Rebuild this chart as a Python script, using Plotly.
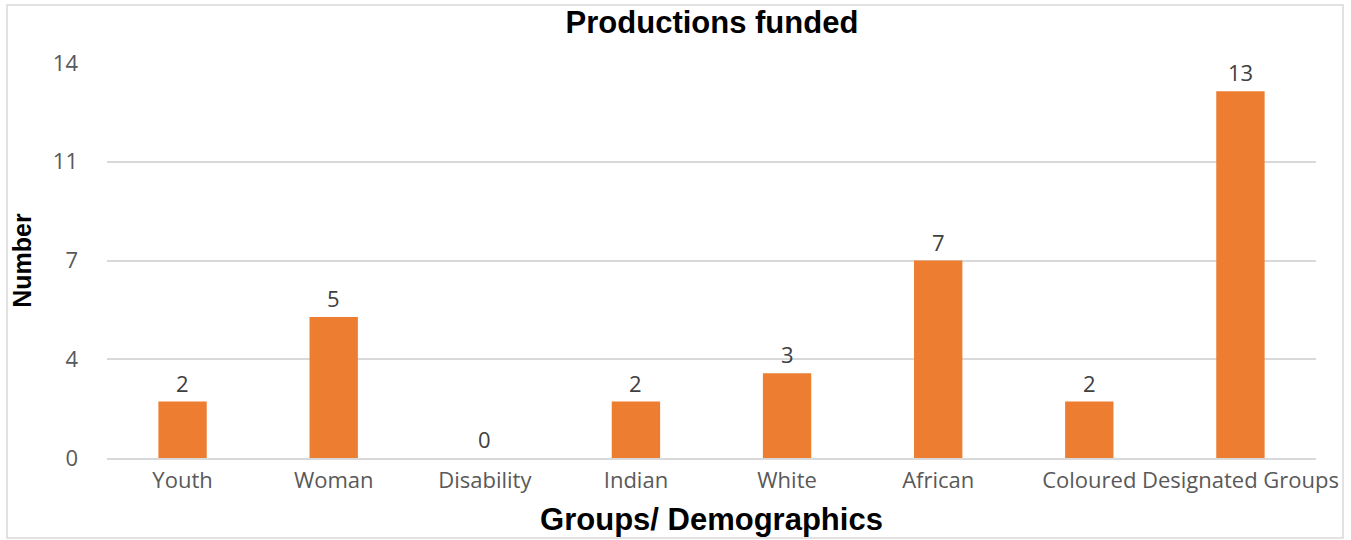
import plotly.graph_objects as go

# Productions funded per demographic group
groups = ["Youth", "Woman", "Disability", "Indian", "White", "African",
          "Coloured", "Designated Groups"]
counts = [2, 5, 0, 2, 3, 7, 2, 13]

# y-axis gridlines sit at quarter steps of 14, labelled as rounded integers
y_tick_vals = [0, 3.5, 7, 10.5, 14]
y_tick_text = ["0", "4", "7", "11", "14"]

fig = go.Figure(
    go.Bar(
        x=groups,
        y=counts,
        marker=dict(color="#ED7D31", line=dict(width=0)),
        width=0.32,
        cliponaxis=False,
        hoverinfo="x+y",
    )
)

# value labels just above each bar
for g, c in zip(groups, counts):
    fig.add_annotation(
        x=g, y=c, text=str(c), showarrow=False,
        xanchor="center", yanchor="bottom", yshift=2,
        font=dict(family="Open Sans", size=22, color="#404040"),
    )

fig.update_layout(
    width=1351,
    height=540,
    margin=dict(l=107, r=35, t=63, b=82, autoexpand=False),
    paper_bgcolor="white",
    plot_bgcolor="white",
    showlegend=False,
    title=dict(
        text="<b>Productions funded</b>",
        x=0.527, xanchor="center",
        y=1 - 22 / 540, yanchor="middle", yref="container",
        font=dict(family="Arial", size=31, color="black"),
    ),
    bargap=0.68,
)

fig.update_xaxes(
    automargin=False,
    showgrid=False,
    showline=True, linecolor="#d9d9d9", linewidth=1.5,
    ticks="", ticklabelstandoff=2, tickangle=0,
    tickfont=dict(family="Open Sans", size=22, color="#595959"),
    title=dict(text="<b>Groups/ Demographics</b>", standoff=15,
               font=dict(family="Arial", size=31, color="black")),
)

fig.update_yaxes(
    automargin=False,
    range=[0, 14],
    tickvals=y_tick_vals, ticktext=y_tick_text,
    showgrid=True, gridcolor="#d9d9d9", gridwidth=1.5,
    zeroline=False, showline=False,
    ticks="", ticklabelstandoff=28,
    tickfont=dict(family="Open Sans", size=22, color="#595959"),
    title=dict(text="<b>Number</b>", standoff=14,
               font=dict(family="Arial", size=25, color="black")),
)

# thin frame around the whole chart
fig.add_shape(
    type="rect", xref="paper", yref="paper",
    x0=(7 - 107) / 1209, x1=(1343 - 107) / 1209,
    y0=(458 - 538) / 395, y1=(458 - 5) / 395,
    line=dict(color="#d9d9d9", width=1.5), fillcolor="rgba(0,0,0,0)",
    layer="below",
)

fig.write_html("out.html")
